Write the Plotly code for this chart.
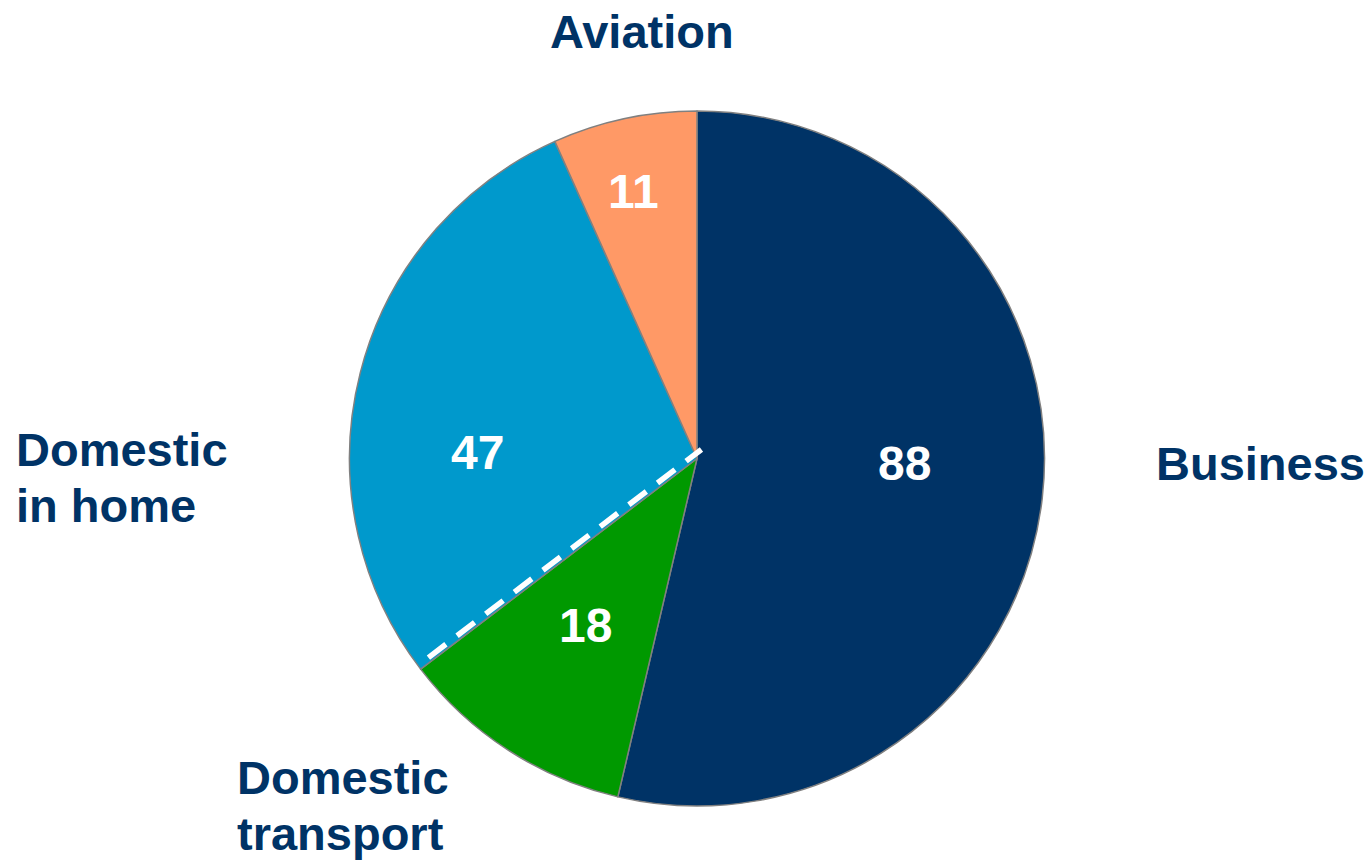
import math
import plotly.graph_objects as go

categories = ["Business", "Domestic transport", "Domestic in home", "Aviation"]
values = [88, 18, 47, 11]
colors = ["#003366", "#009900", "#0099CC", "#FF9966"]
outer_label_lines = [["Business"], ["Domestic", "transport"], ["Domestic", "in home"], ["Aviation"]]

W, H = 1371, 861
ML, MR, MT, MB = 0, 0, 111, 55
dom_x = [0.0168, 1.0]
navy = "#003366"
font_family = "Liberation Sans, Arial, Helvetica, sans-serif"

fig = go.Figure(go.Pie(
    labels=categories,
    values=values,
    sort=False,
    direction="clockwise",
    rotation=0,
    marker=dict(colors=colors, line=dict(color="#808080", width=1.5)),
    textinfo="none",
    domain=dict(x=dom_x, y=[0, 1]),
    hoverinfo="label+value",
    showlegend=False,
))

# geometry derived from the pie domain
pw, ph = W - ML - MR, H - MT - MB
cx_px = ML + (dom_x[0] + dom_x[1]) / 2 * pw
cy_px = MT + ph / 2
R = min((dom_x[1] - dom_x[0]) * pw, ph) / 2

def to_paper(px, py):
    return (px - ML) / pw, 1 - (py - MT) / ph

# dashed white line along boundary between Domestic transport and Domestic in home
total = sum(values)
theta = 2 * math.pi * (values[0] + values[1]) / total  # clockwise from top
ux, uy = math.sin(theta), -math.cos(theta)  # pixel direction (y down)
nx, ny = -uy, ux  # perpendicular (points toward the "Domestic in home" side)
off = 4.5
x0 = cx_px + ux * 0.962 * R + nx * off
y0 = cy_px + uy * 0.962 * R + ny * off
x1 = cx_px - ux * 9 + nx * off
y1 = cy_px - uy * 9 + ny * off
p0 = to_paper(x0, y0)
p1 = to_paper(x1, y1)
fig.add_shape(type="line", xref="paper", yref="paper",
              x0=p0[0], y0=p0[1], x1=p1[0], y1=p1[1],
              line=dict(color="white", width=5.5, dash="22px,14px"))

# value labels inside slices (pixel placement of the label boxes)
value_pos = {
    "Business": (905, 463),
    "Domestic transport": (585, 625),
    "Domestic in home": (477, 452),
    "Aviation": (633, 192),
}
for cat, v in zip(categories, values):
    px, py = value_pos[cat]
    xp, yp = to_paper(px, py)
    fig.add_annotation(x=xp, y=yp, xref="paper", yref="paper", text="<b>%d</b>" % v,
                       showarrow=False, xanchor="center", yanchor="middle",
                       font=dict(size=48, color="white", family=font_family))

# outer category labels, one annotation per line
label_pos = {
    "Business": (1154, [463], "left"),
    "Domestic transport": (235, [777, 833], "left"),
    "Domestic in home": (14, [449, 505], "left"),
    "Aviation": (642, [32], "center"),
}
for cat, lines in zip(categories, outer_label_lines):
    px, ys, al = label_pos[cat]
    for line, py in zip(lines, ys):
        xp, yp = to_paper(px, py)
        fig.add_annotation(x=xp, y=yp, xref="paper", yref="paper", text="<b>" + line + "</b>",
                           showarrow=False, xanchor=al, yanchor="middle",
                           font=dict(size=47, color=navy, family=font_family))

fig.update_layout(
    width=W, height=H,
    margin=dict(l=ML, r=MR, t=MT, b=MB),
    paper_bgcolor="white",
    plot_bgcolor="white",
)

fig.write_html("out.html", config={"displayModeBar": False},
               post_script="document.body.style.margin='0px';")
